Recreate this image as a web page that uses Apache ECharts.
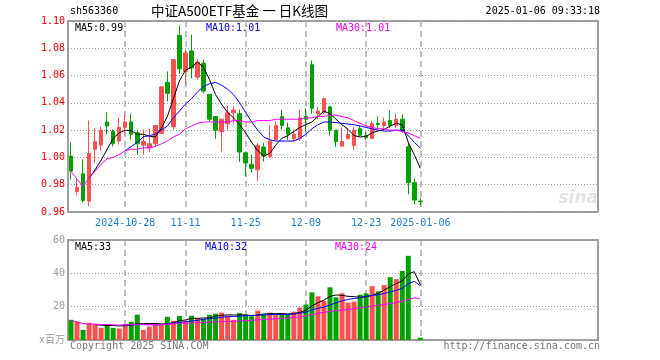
<!DOCTYPE html>
<html><head><meta charset="utf-8">
<script src="https://cdn.jsdelivr.net/npm/echarts/dist/echarts.min.js"></script>
<style>html,body{margin:0;padding:0;background:#fff}#c{width:660px;height:360px}</style>
</head><body><div id="c"></div>
<script>
const dates = ['2024-10-15','2024-10-16','2024-10-17','2024-10-18','2024-10-21','2024-10-22','2024-10-23','2024-10-24','2024-10-25','2024-10-28',
'2024-10-29','2024-10-30','2024-10-31','2024-11-01','2024-11-04','2024-11-05','2024-11-06','2024-11-07','2024-11-08','2024-11-11',
'2024-11-12','2024-11-13','2024-11-14','2024-11-15','2024-11-18','2024-11-19','2024-11-20','2024-11-21','2024-11-22','2024-11-25',
'2024-11-26','2024-11-27','2024-11-28','2024-11-29','2024-12-02','2024-12-03','2024-12-04','2024-12-05','2024-12-06','2024-12-09',
'2024-12-10','2024-12-11','2024-12-12','2024-12-13','2024-12-16','2024-12-17','2024-12-18','2024-12-19','2024-12-20','2024-12-23',
'2024-12-24','2024-12-25','2024-12-26','2024-12-27','2024-12-30','2024-12-31','2025-01-02','2025-01-03','2025-01-06'];
const tickDates = ['2024-10-28','2024-11-11','2024-11-25','2024-12-09','2024-12-23','2025-01-06'];
const tickLabels = ['2024-10-28','11-11','11-25','12-09','12-23','2025-01-06'];
const priceTicks = [0.96, 1.10, 0.02];
const volTicks = [0, 60, 20];

const opens = [1.001,0.975,0.988,0.968,1.006,1.009,1.026,1.019,1.012,1.022,
 1.026,1.018,1.009,1.007,1.010,1.0176,1.055,1.0225,1.0895,1.063,
 1.078,1.0588,1.069,1.046,1.030,1.019,1.0246,1.0327,1.032,1.0034,
 0.995,0.991,1.0076,1.0005,1.013,1.030,1.0217,1.0137,1.014,1.030,
 1.068,1.032,1.033,1.037,1.020,1.0083,1.0139,1.0088,1.021,1.016,
 1.0139,1.025,1.0234,1.027,1.0234,1.028,1.0078,0.9815,0.968];
const closes = [0.990,0.978,0.9685,1.003,1.0115,1.020,1.023,1.010,1.022,1.026,
 1.017,1.010,1.0117,1.010,1.0234,1.0517,1.047,1.0717,1.065,1.0766,
 1.0656,1.0698,1.0486,1.028,1.020,1.028,1.0327,1.0347,1.004,0.996,
 0.992,1.0088,1.001,1.012,1.0234,1.0234,1.017,1.017,1.029,1.028,
 1.036,1.034,1.043,1.020,1.0117,1.0117,1.0168,1.020,1.0163,1.0144,
 1.0249,1.0242,1.026,1.0234,1.028,1.0198,0.9815,0.9688,0.9676];
const lows = [0.984,0.972,0.967,0.964,0.996,1.0046,1.017,1.008,1.0095,1.018,
 1.013,1.002,1.002,1.004,1.008,1.017,1.041,1.0205,1.0615,1.053,
 1.058,1.057,1.047,1.0266,1.0137,1.0046,1.0205,1.025,0.9966,0.9863,
 0.989,0.9827,0.997,1.000,1.012,1.0205,1.013,1.012,1.012,1.019,
 1.032,1.028,1.0315,1.016,1.0078,1.0078,1.013,1.0054,1.0156,1.013,
 1.0137,1.0205,1.021,1.0217,1.0217,1.018,0.973,0.9656,0.965];
const highs = [1.011,0.984,0.9985,1.027,1.0217,1.0225,1.033,1.0205,1.029,1.0315,
 1.032,1.020,1.0205,1.021,1.0234,1.052,1.063,1.0717,1.0966,1.079,
 1.090,1.072,1.0717,1.046,1.030,1.028,1.0376,1.0376,1.035,1.004,
 1.002,1.0107,1.0107,1.0234,1.0266,1.035,1.0254,1.0205,1.035,1.036,
 1.071,1.037,1.044,1.038,1.020,1.0217,1.0217,1.0225,1.0234,1.0185,
 1.0266,1.030,1.029,1.0346,1.032,1.0315,1.0107,0.9844,0.9705];
const volumes = [12.1,10.9,6.1,10.3,9.7,7.3,8.9,7.3,6.9,9.7,
 10.9,15.2,6.1,8.1,9.5,9.1,13.9,11.5,14.5,11.1,
 14.5,13.1,12.7,15.2,15.8,16.4,14.7,12.1,16.2,15.2,
 14.2,17.6,15.2,16.4,15.2,15.2,15.2,17.0,19.5,21.3,
 28.6,26.2,23.5,31.6,25.6,28.0,22.5,23.1,27.2,28.0,
 32.3,29.2,32.9,37.7,36.5,41.4,50.5,null,1.4];

const ma5 = [null,null,null,0.985,0.991,0.998,1.006,1.014,1.018,1.020,
 1.0195,1.017,1.017,1.0155,1.015,1.0215,1.030,1.043,1.056,1.064,
 1.066,1.070,1.066,1.057,1.046,1.039,1.033,1.029,1.024,1.018,
 1.011,1.005,1.001,1.003,1.009,1.014,1.016,1.019,1.022,1.024,
 1.026,1.030,1.034,1.032,1.028,1.024,1.0205,1.016,1.015,1.0155,
 1.018,1.0195,1.0205,1.023,1.025,1.024,1.011,1.002,0.992];
const ma10 = [null,null,null,null,null,null,null,null,null,1.005,
 1.008,1.011,1.015,1.016,1.017,1.020,1.023,1.029,1.034,1.039,
 1.043,1.048,1.052,1.054,1.055,1.053,1.050,1.046,1.040,1.033,
 1.026,1.020,1.015,1.013,1.012,1.012,1.012,1.012,1.014,1.017,
 1.021,1.024,1.026,1.026,1.0255,1.025,1.0245,1.024,1.023,1.022,
 1.021,1.020,1.0193,1.0193,1.020,1.020,1.016,1.011,1.007];
const ma30 = [0.990,0.984,0.979,0.985,0.990,0.995,0.999,1.000,1.002,1.005,
 1.006,1.006,1.007,1.007,1.008,1.010,1.012,1.015,1.017,1.021,
 1.023,1.025,1.026,1.026,1.026,1.026,1.026,1.027,1.027,1.026,
 1.026,1.027,1.027,1.027,1.028,1.028,1.028,1.028,1.028,1.029,
 1.029,1.030,1.030,1.031,1.031,1.030,1.029,1.027,1.025,1.023,
 1.022,1.021,1.021,1.020,1.020,1.019,1.018,1.016,1.014];
const volMa5 = [null,null,null,null,9.2,8.9,8.7,8.7,8.4,8.6,
 9.0,9.8,9.8,9.9,9.9,9.7,9.6,10.4,11.6,12.0,
 13.0,13.0,13.2,13.3,14.3,14.8,15.1,15.0,15.1,15.0,
 14.7,15.0,15.6,15.8,15.8,15.9,15.6,15.8,16.6,17.8,
 20.4,22.4,23.9,26.2,27.0,26.8,26.2,26.0,25.6,26.0,
 26.8,28.0,30.0,32.0,33.8,35.5,39.6,41.0,33.2];
const volMa10 = [null,null,null,null,null,null,null,null,null,8.9,
 9.0,9.3,9.2,9.2,9.1,9.2,9.5,10.0,10.5,11.0,
 11.4,11.8,12.4,12.9,13.1,13.6,14.0,14.1,14.3,14.6,
 14.6,14.8,15.1,15.2,15.3,15.3,15.4,15.5,16.0,16.7,
 18.1,19.0,19.8,21.0,22.3,23.5,24.3,24.9,25.3,26.3,
 26.7,27.1,27.9,28.8,29.8,31.0,33.7,35.2,32.6];
const volMa30 = [11.7,10.9,9.9,9.6,9.5,9.3,9.3,9.1,9.0,9.1,
 9.2,9.5,9.3,9.2,9.2,9.1,9.4,9.7,9.9,10.0,
 10.3,10.4,10.5,10.7,10.9,11.0,11.1,11.2,11.5,11.6,
 11.8,12.1,12.3,12.5,12.7,12.9,13.2,13.5,13.9,14.4,
 15.2,16.0,16.6,17.1,17.5,17.9,18.3,18.7,19.3,19.8,
 20.3,20.8,21.3,21.8,22.5,23.3,24.3,25.3,24.8];

const RED = '#ff5050', GREEN = '#00a000';
const MONO = "'DejaVu Sans Mono', monospace";
const slots = 88;
const cats = dates.concat(Array.from({length: slots - dates.length}, (_, k) => '_' + k));
const isTick = (i, v) => tickDates.indexOf(v) >= 0;
const nz = a => a.map(v => v == null ? '-' : v);
const last = a => a[a.length - 1];

const chart = echarts.init(document.getElementById('c'), null, {renderer: 'canvas'});
const splitV = {show: true, interval: isTick, alignWithLabel: true, lineStyle: {color: '#aaa', width: 1.5, type: [6, 4]}};
const gridBase = {left: 68, right: 62, show: true, borderColor: '#a0a0a0', borderWidth: 2, backgroundColor: '#fff'};

function lineS(data, color, xi, yi) {
  return {type: 'line', data: nz(data), xAxisIndex: xi, yAxisIndex: yi, symbol: 'none', showSymbol: false,
    lineStyle: {color: color, width: 1}, itemStyle: {color: color}, silent: true, z: 5};
}
function t(x, y, s, color, font, align) {
  const o = {type: 'text', top: y, style: {text: s, fill: color, font: font || ('10px ' + MONO)}, z: 100};
  if (align === 'right') o.right = x; else o.left = x;
  return o;
}

chart.setOption({
  animation: false,
  grid: [Object.assign({top: 21, height: 191}, gridBase), Object.assign({top: 240, height: 100}, gridBase)],
  xAxis: [
    {type: 'category', data: cats, gridIndex: 0, boundaryGap: true,
     axisLine: {show: false}, axisTick: {show: false}, splitLine: splitV,
     axisLabel: {show: true, interval: isTick, margin: 6, color: '#1a7fd0', fontFamily: MONO, fontSize: 10,
       formatter: v => tickLabels[tickDates.indexOf(v)] || ''}},
    {type: 'category', data: cats, gridIndex: 1, boundaryGap: true,
     axisLine: {show: false}, axisTick: {show: false}, splitLine: splitV, axisLabel: {show: false}}
  ],
  yAxis: [
    {type: 'value', gridIndex: 0, min: priceTicks[0], max: priceTicks[1], interval: priceTicks[2], scale: true,
     axisLine: {show: false}, axisTick: {show: false},
     splitLine: {show: true, lineStyle: {color: '#999', width: 1, type: [1, 2]}},
     axisLabel: {color: '#ff0000', fontFamily: MONO, fontSize: 10, margin: 3, formatter: v => v.toFixed(2)}},
    {type: 'value', gridIndex: 1, min: volTicks[0], max: volTicks[1], interval: volTicks[2],
     axisLine: {show: false}, axisTick: {show: false},
     splitLine: {show: true, lineStyle: {color: '#999', width: 1, type: [1, 2]}},
     axisLabel: {color: '#999', fontFamily: MONO + ", 'Noto Sans CJK SC'", fontSize: 10, margin: 3,
       formatter: v => v === 0 ? 'x百万' : String(v)}}
  ],
  series: [
    {type: 'candlestick', xAxisIndex: 0, yAxisIndex: 0, barWidth: 4,
     data: dates.map((d, i) => [opens[i], closes[i], lows[i], highs[i]]),
     itemStyle: {color: RED, color0: GREEN, borderColor: RED, borderColor0: GREEN, borderWidth: 1}, z: 3},
    lineS(ma5, '#000000', 0, 0),
    lineS(ma10, '#0000ff', 0, 0),
    lineS(ma30, '#ff00ff', 0, 0),
    {type: 'bar', xAxisIndex: 1, yAxisIndex: 1, barWidth: 5,
     data: volumes.map((v, i) => v == null ? '-' : {value: v, itemStyle: {color: closes[i] >= opens[i] ? RED : GREEN}}), z: 3},
    lineS(volMa5, '#000000', 1, 1),
    lineS(volMa10, '#0000ff', 1, 1),
    lineS(volMa30, '#ff00ff', 1, 1)
  ],
  graphic: [
    t(70, 6, 'sh563360', '#000'),
    t(151, 4, '中证A500ETF基金 一 日K线图', '#000', "13.5px 'Noto Sans CJK SC'"),
    t(60, 6, '2025-01-06 09:33:18', '#000', null, 'right'),
    t(75, 23, 'MA5:' + last(ma5).toFixed(2), '#000'),
    t(206, 23, 'MA10:' + last(ma10).toFixed(2), '#0000ff'),
    t(336, 23, 'MA30:' + last(ma30).toFixed(2), '#ff00ff'),
    t(75, 242, 'MA5:' + Math.floor(last(volMa5)), '#000'),
    t(205, 242, 'MA10:' + Math.floor(last(volMa10)), '#0000ff'),
    t(335, 242, 'MA30:' + Math.floor(last(volMa30)), '#ff00ff'),
    t(70, 341, 'Copyright 2025 SINA.COM', '#777'),
    t(60, 341, 'http://finance.sina.com.cn', '#777', null, 'right'),
    t(62, 190, 'sina', '#e4e4e4', "italic bold 17px 'DejaVu Sans'", 'right')
  ]
});
</script></body></html>
